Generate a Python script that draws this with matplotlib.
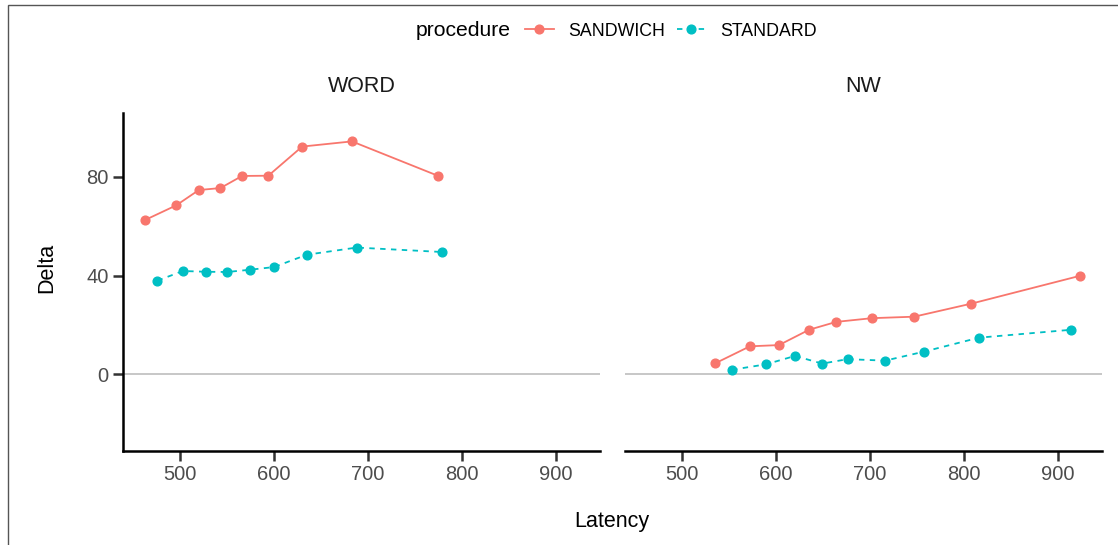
import matplotlib
matplotlib.use("Agg")
import matplotlib.pyplot as plt
from matplotlib.patches import Rectangle

plt.rcParams['font.family'] = ['Liberation Sans', 'DejaVu Sans']

# data
word_sand_x = [463, 496, 520, 543, 566, 594, 630, 683, 775]
word_sand_y = [62.6, 68.5, 74.7, 75.5, 80.4, 80.5, 92.3, 94.4, 80.4]
word_std_x = [476, 503, 528, 550, 574, 600, 635, 688, 779]
word_std_y = [38.0, 41.9, 41.6, 41.5, 42.4, 43.5, 48.5, 51.4, 49.6]

nw_sand_x = [535, 572, 603, 635, 664, 702, 747, 808, 924]
nw_sand_y = [4.5, 11.4, 11.9, 18.1, 21.3, 22.8, 23.4, 28.7, 40.0]
nw_std_x = [553, 589, 620, 649, 676, 716, 757, 816, 914]
nw_std_y = [1.9, 4.1, 7.5, 4.4, 6.2, 5.6, 9.2, 14.9, 18.1]

panels = ["WORD", "NW"]
x_ticks = [500, 600, 700, 800, 900]
y_ticks = [0, 40, 80]

RED = '#F8766D'
TEAL = '#00BFC4'

W, H = 1118, 545
fig = plt.figure(figsize=(W / 100, H / 100), dpi=100)

# border of the original image (only top and left edges visible)
fig.add_artist(Rectangle((8 / W, -0.1), 1.2, 1.1 - 5.5 / H, transform=fig.transFigure,
                         fill=False, edgecolor='#555555', linewidth=1.0))

bottom = 1 - 451 / H
height = (451 - 113) / H
ax1 = fig.add_axes([122.7 / W, bottom, 477.3 / W, height])
ax2 = fig.add_axes([625 / W, bottom, 477 / W, height])

data = [(word_sand_x, word_sand_y, word_std_x, word_std_y),
        (nw_sand_x, nw_sand_y, nw_std_x, nw_std_y)]

handles = None
for i, (ax, name, d) in enumerate(zip([ax1, ax2], panels, data)):
    sx, sy, tx, ty = d
    ax.axhline(0, color='#BEBEBE', linewidth=1.2, zorder=1)
    l1, = ax.plot(sx, sy, color=RED, linewidth=1.3, marker='o', markersize=6.3,
                  label='SANDWICH', zorder=3)
    l2, = ax.plot(tx, ty, color=TEAL, linewidth=1.3, linestyle=(0, (3, 3)),
                  marker='o', markersize=6.3, label='STANDARD', zorder=3)
    handles = [l1, l2]
    ax.set_xlim(439, 947)
    ax.set_ylim(-31, 105.9)
    ax.set_xticks(x_ticks)
    ax.set_yticks(y_ticks)
    for s in ['top', 'right']:
        ax.spines[s].set_visible(False)
    ax.spines['bottom'].set_linewidth(1.8)
    ax.spines['left'].set_linewidth(1.8)
    ax.tick_params(axis='both', length=7, width=1.8, color='#333333',
                   labelsize=14.5, labelcolor='#4D4D4D', pad=3)
    x0, x1 = ax.get_position().x0, ax.get_position().x1
    fig.text((x0 + x1) / 2, 1 - 86 / H, name, fontsize=15.5, color='#1A1A1A',
             ha='center', va='center')
    if i == 1:
        ax.spines['left'].set_visible(False)
        ax.tick_params(axis='y', left=False, labelleft=False)

fig.text(47 / W, 1 - 268 / H, 'Delta', fontsize=15.5, rotation=90,
         ha='center', va='center')
fig.text(612 / W, 1 - 522 / H, 'Latency', fontsize=15.5, ha='center', va='center')

fig.text(416 / W, 1 - 31 / H, 'procedure', fontsize=15.2, ha='left', va='center')
fig.legend(handles=handles, loc='center left', bbox_to_anchor=(525 / W, 1 - 31 / H),
           ncol=2, frameon=False, fontsize=12.8, handlelength=1.63,
           columnspacing=0.67, handletextpad=0.79, borderaxespad=0, borderpad=0)

fig.savefig('out.png', dpi=100)
